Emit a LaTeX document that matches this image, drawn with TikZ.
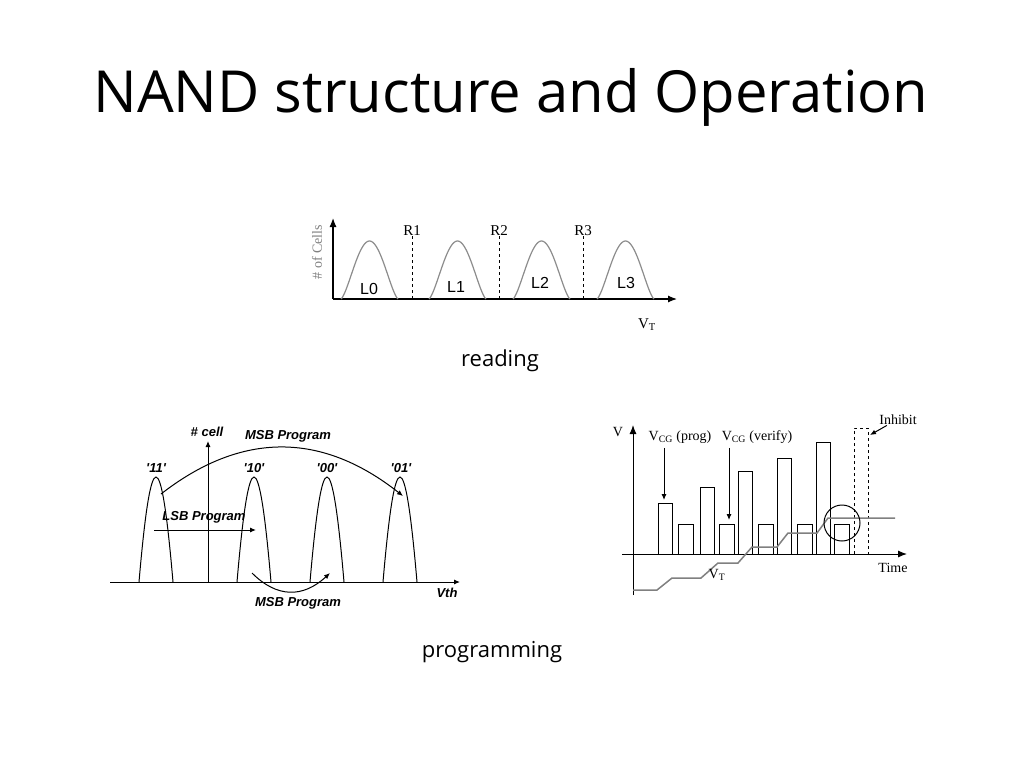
\documentclass[tikz,border=0pt]{standalone}
\usepackage{fontspec}
\setmainfont{Open Sans}
\newfontfamily\timesfont{Liberation Serif}
\newfontfamily\arialfont{Liberation Sans}
\usetikzlibrary{positioning}
\usetikzlibrary{arrows.meta}

\tikzset{
	bigtip/.style = {-{Latex[length=9pt, width=7pt]}},
	smalltip/.style = {-{Latex[length=6pt, width=5pt]}},
	slabel/.style = {font = \arialfont\bfseries\itshape\fontsize{13}{13}\selectfont, inner sep = 0pt},
	tlabel/.style = {font = \timesfont\fontsize{14}{14}\selectfont, inner sep = 0pt}
}

\begin{document}
\begin{tikzpicture}[x=1pt, y=-1pt, line width=1pt]
			\useasboundingbox[fill=white] (0, 0) rectangle (1024, 768);
			\node (title) at (511, 97) {\fontsize{58}{58}\selectfont NAND structure and Operation};
			% reading
			\coordinate (ro) at (333, 299);
			\draw[black, bigtip, line width=1.2pt] (ro)--(333, 218);
			\draw[black, bigtip, line width=1.2pt] (ro)--(677, 299);
			\foreach \px in {341, 429, 513, 597}
				\draw[gray!90, line width=1.2pt] plot[variable=\t, domain=0:1, samples=50] ({\px + 57*\t}, {299 - 58*pow(sin(180*\t), 1.4)});
			\foreach \px/\py/\lab in {369/289/L0, 456/287/L1, 540/283/L2, 626/283/L3}
				\node (\lab) at (\px, \py) [font = \arialfont\fontsize{16}{16}\selectfont]{\lab};
			\foreach \px/\lab in {412/R1, 499/R2, 583/R3} {
				\node (\lab) at (\px, 236) [tlabel, anchor = south, font = \timesfont\fontsize{15}{15}\selectfont]{\lab};
				\draw[black, dashed] (\lab.south)--(\px, 299);
			}
			\node (cells) at (317, 252) [tlabel, rotate = 90, text = gray]{\# of Cells};
			\node (vt) at (647, 325) [tlabel, font = \timesfont\fontsize{15}{15}\selectfont]{V\textsubscript{T}};
			\node (reading) at (500, 361) {\fontsize{22}{22}\selectfont reading};
			% programming, left
			\coordinate (po) at (208, 582);
			\draw[black, smalltip] (110, 582)--(460, 582);
			\draw[black, smalltip] (po)--(208, 441);
			\foreach \a in {139, 237, 310, 383}
				\draw[black] (\a, 582) .. controls ({\a + 12}, 442) and ({\a + 22}, 442) .. ({\a + 34}, 582);
			\foreach \px/\lab in {156/11, 254/10, 327/00, 401/01}
				\node (s\lab) at (\px, 468) [slabel]{'\lab'};
			\node (cell) at (207, 432) [slabel]{\# cell};
			\node (msbtop) at (288, 436) [slabel]{MSB Program};
			\node (lsb) at (204, 517) [slabel]{LSB Program};
			\node (msbbot) at (298, 603) [slabel]{MSB Program};
			\node (vth) at (447, 593) [slabel]{Vth};
			\draw[black, smalltip] (161, 494) .. controls (242, 431) and (322, 432) .. (403, 496);
			\draw[black, smalltip] (154, 530)--(256, 530);
			\draw[black, smalltip] (252, 573) .. controls (277, 598) and (303, 598) .. (330, 573);
			% programming, right
			\draw[black, bigtip] (633, 595)--(633, 425);
			\draw[black, bigtip] (622, 554)--(907, 554);
			\foreach \px/\top in {658/503, 700/487, 738/471, 777/458, 816/442}
				\draw[black] (\px, 554) rectangle ({\px + 14}, \top);
			\foreach \px in {678, 719, 758, 797, 834}
				\draw[black] (\px, 554) rectangle ({\px + 15}, 524);
			\draw[black, dashed] (854, 554) rectangle (868, 428);
			\draw[gray, line width=1.5pt] (633, 590)--(657, 590)--(672, 578)--(701, 578)--(718, 563)--(738, 563)--(752, 547)--(777, 547)--(788, 533)--(817, 533)--(828, 518)--(895, 518);
			\draw[black] (842, 523) circle (18);
			\node (v) at (618, 432) [tlabel]{V};
			\node (time) at (893, 568) [tlabel]{Time};
			\node (vtr) at (717, 575) [tlabel]{V\textsubscript{T}};
			\node (prog) at (680, 437) [tlabel]{V\textsubscript{CG} (prog)};
			\node (verify) at (757, 437) [tlabel]{V\textsubscript{CG} (verify)};
			\node (inhibit) at (898, 420) [tlabel]{Inhibit};
			\coordinate (progtip) at (664, 500);
			\coordinate (verifytip) at (729, 520);
			\coordinate (inhibittip) at (870, 435);
			\draw[black, smalltip] (prog.south -| progtip)++(0, 4)--(progtip);
			\draw[black, smalltip] (verify.south -| verifytip)++(0, 4)--(verifytip);
			\draw[black, smalltip] (inhibit.south west)++(8, 0)--(inhibittip);
			\node (programming) at (492, 652) {\fontsize{22}{22}\selectfont programming};
		\end{tikzpicture}
\end{document}
